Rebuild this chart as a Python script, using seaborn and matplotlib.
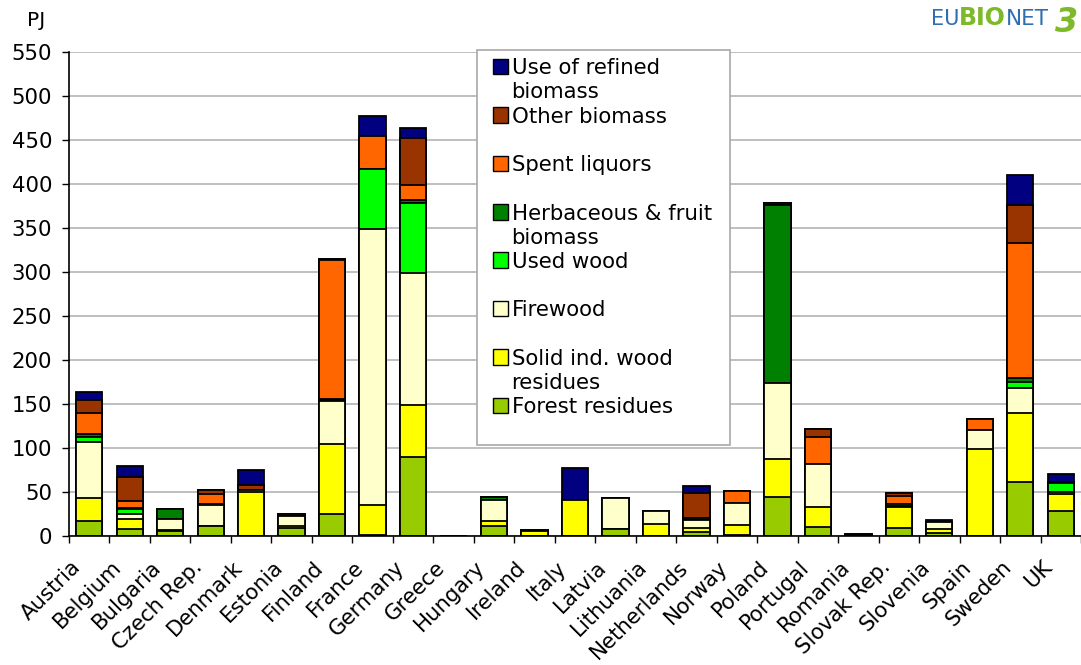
import numpy as np
import pandas as pd
import matplotlib
matplotlib.use("Agg")
import matplotlib.pyplot as plt
import seaborn as sns
from matplotlib.patches import Rectangle
from matplotlib.ticker import MultipleLocator, FixedLocator
from matplotlib.transforms import ScaledTranslation

# --- data (PJ) ---
countries = ["Austria", "Belgium", "Bulgaria", "Czech Rep.", "Denmark", "Estonia",
             "Finland", "France", "Germany", "Greece", "Hungary", "Ireland", "Italy",
             "Latvia", "Lithuania", "Netherlands", "Norway", "Poland", "Portugal",
             "Romania", "Slovak Rep.", "Slovenia", "Spain", "Sweden", "UK"]

forest_residues = [17, 8, 5.5, 11, 0, 9, 25, 1.5, 90, 0, 11.5, 0, 0,
                   8.5, 0.5, 4, 1, 44, 10, 0.5, 9.5, 3, 0, 61.5, 28.5]
solid_ind_wood = [26, 11, 1, 0.5, 50, 2, 79, 33.5, 58.5, 0, 5.5, 5.5, 41,
                  0, 13, 5.5, 11.5, 43, 23, 0, 24, 5, 99, 78, 19]
firewood = [64, 6, 13, 24, 2, 11.5, 49, 314, 150, 0, 23.5, 1, 0,
            35, 14.5, 8.5, 24.5, 86.5, 48.5, 1, 0.5, 7.5, 21, 28.5, 3]
used_wood = [5, 6, 0, 0.5, 0, 0, 2, 68, 80, 0, 0, 0, 0,
             0, 0, 0, 0, 0, 0, 0, 2, 0, 0, 6.5, 9.5]
herbaceous = [4, 1, 11.5, 0.5, 0, 0, 1, 0, 3, 0, 4, 0, 0,
              0, 0, 2.5, 0, 202.5, 0, 0, 0.5, 0, 0, 5, 1]
spent_liquors = [24, 8, 0, 11, 0, 0.5, 158, 37.5, 17, 0, 0, 0, 0,
                 0, 0, 0.5, 14.5, 0, 31.5, 0, 9.5, 0, 13, 154, 0]
other_biomass = [15, 27, 0, 5, 6, 1.5, 1, 0, 54, 0, 0, 0, 0,
                 0, 0, 27.5, 0, 2, 8.5, 0.5, 2.5, 0, 0, 43, 0]
refined_biomass = [9, 13, 0, 0, 16.6, 0.5, 0, 23, 11, 0, 0, 0.5, 36.5,
                   0, 0, 8.5, 0, 0, 0, 0, 0, 2.5, 0, 34, 9]

layer_labels = ["Forest residues", "Solid ind. wood\nresidues", "Firewood", "Used wood",
                "Herbaceous & fruit\nbiomass", "Spent liquors", "Other biomass",
                "Use of refined\nbiomass"]
layer_colors = ["#99CC00", "#FFFF00", "#FFFFCC", "#00FF00",
                "#008000", "#FF6600", "#993300", "#000080"]

df = pd.DataFrame(
    np.column_stack([forest_residues, solid_ind_wood, firewood, used_wood,
                     herbaceous, spent_liquors, other_biomass, refined_biomass]),
    index=countries, columns=layer_labels)
cum = df.cumsum(axis=1)

sns.set_theme(style="white")
plt.rcParams['font.family'] = ['DejaVu Sans']
plt.rcParams['text.color'] = 'black'
plt.rcParams['xtick.color'] = 'black'
plt.rcParams['ytick.color'] = 'black'

W, H = 1081, 665
fig = plt.figure(figsize=(W / 100, H / 100), dpi=100)
ax = fig.add_axes([69 / W, 1 - 536 / H, 1 - 69 / W, (536 - 52) / H])

# stacked bars: draw cumulative totals from the top layer down
for i in reversed(range(len(layer_labels))):
    sns.barplot(x=countries, y=cum.iloc[:, i].values, order=countries,
                color=layer_colors[i], saturation=1, width=0.65,
                edgecolor="black", linewidth=1.3, ax=ax, zorder=2)

ax.set_xlim(-0.5, len(countries) - 0.5)
ax.set_ylim(0, 550)
ax.yaxis.set_major_locator(MultipleLocator(50))
ax.yaxis.grid(True, color="#b4b4b4", linewidth=1.2)
ax.set_axisbelow(True)
ax.set_xlabel("")
ax.set_ylabel("")

for side in ["top", "right"]:
    ax.spines[side].set_visible(False)
for side in ["left", "bottom"]:
    ax.spines[side].set_color("black")
    ax.spines[side].set_linewidth(1.2)

ax.tick_params(axis="y", left=True, length=5, width=1, pad=7, labelsize=15.3)
ax.xaxis.set_minor_locator(FixedLocator(np.arange(-0.5, len(countries), 1.0)))
ax.tick_params(axis="x", which="minor", bottom=True, length=5, width=1)
ax.tick_params(axis="x", which="major", bottom=False, length=0, pad=0, labelsize=15.3)

offset = ScaledTranslation(-0.12, -0.28, fig.dpi_scale_trans)
for lab in ax.get_xticklabels():
    lab.set_rotation(45)
    lab.set_ha("right")
    lab.set_va("center")
    lab.set_rotation_mode("anchor")
    lab.set_transform(lab.get_transform() + offset)

fig.text(27 / W, 1 - 26 / H, "PJ", fontsize=14.5, va="baseline", ha="left")

# legend box, drawn in figure pixels
def fx(px):
    return px / W

def fy(py):
    return 1 - py / H

fig.add_artist(Rectangle((fx(476.7), fy(445)), (730 - 476.7) / W, (445 - 50) / H,
                         transform=fig.transFigure, facecolor="white",
                         edgecolor="#a8a8a8", linewidth=1.2, zorder=5))
for k, i in enumerate(reversed(range(len(layer_labels)))):
    base = 74.3 + 48.43 * k
    fig.add_artist(Rectangle((fx(492.7), fy(base)), 15.6 / W, 15.6 / H,
                             transform=fig.transFigure, facecolor=layer_colors[i],
                             edgecolor="black", linewidth=1, zorder=6))
    for j, line in enumerate(layer_labels[i].split("\n")):
        fig.text(fx(511.5), fy(base + 24 * j), line, fontsize=15.3,
                 va="baseline", ha="left", zorder=6)

# logo
blue, green = "#2F6FB0", "#7DB928"
fig.text(fx(931), fy(25), "EU", fontsize=15, color=blue, va="baseline")
fig.text(fx(959), fy(25), "BIO", fontsize=17, color=green, weight="bold", va="baseline")
fig.text(fx(1006), fy(25), "NET", fontsize=15.5, color=blue, va="baseline")
fig.text(fx(1055), fy(32), "3", fontsize=24, color=green, weight="bold",
         style="italic", va="baseline")

fig.savefig("out.png", dpi=100)
